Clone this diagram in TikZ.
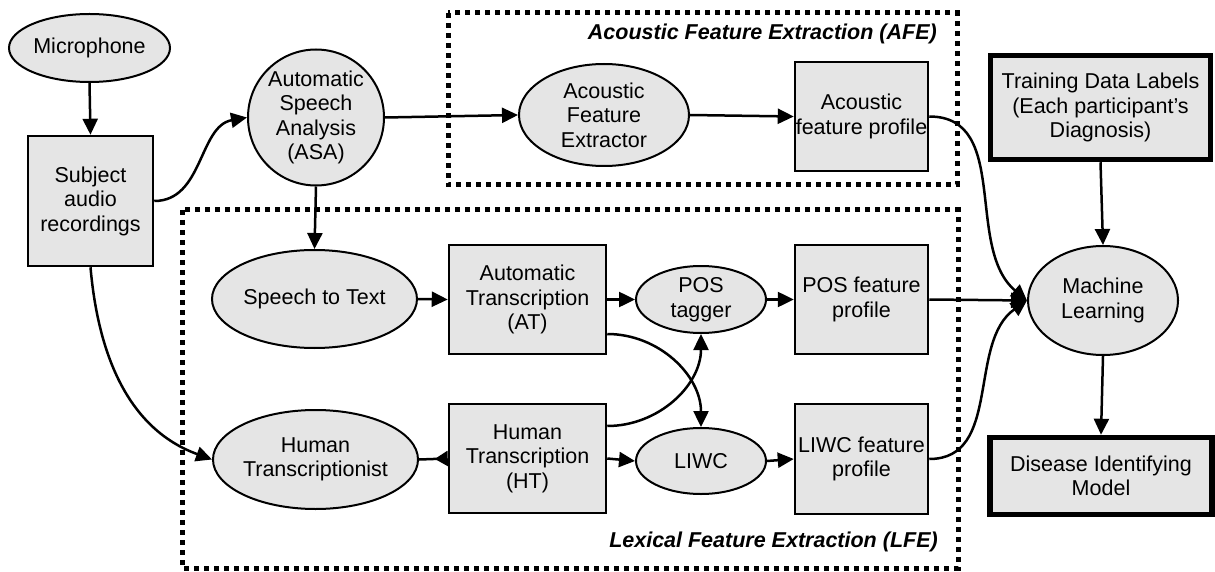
\documentclass[tikz,border=0pt]{standalone}
\usepackage{fontspec}
\setmainfont{Liberation Sans}
\usetikzlibrary{shapes.geometric,arrows.meta}
\begin{document}
\begin{tikzpicture}[x=1pt,y=-1pt,
  every node/.style={font=\fontsize{21.5}{24.5}\selectfont, align=center, inner sep=0pt},
  ell/.style={ellipse, draw, line width=2pt, fill=gray!20},
  box/.style={rectangle, draw, line width=2pt, fill=gray!20},
  thickbox/.style={rectangle, draw, line width=5.5pt, fill=gray!20},
  conn/.style={line width=2.5pt, -{Triangle[length=16pt,width=15pt]}},
  revconn/.style={line width=2.5pt, -{Triangle[length=13pt,width=15pt,reversed]}},
  region/.style={line width=5pt, dash pattern=on 5pt off 5pt},
  lbl/.style={font=\fontsize{21.5}{24.5}\selectfont\bfseries\itshape}
]
\useasboundingbox (0,0) rectangle (1215,572);

% regions
\draw[region] (448,13) rectangle (957,185);
\draw[region] (182,210) rectangle (958,568);
\node[lbl, anchor=east] (afel) at (937,34) {Acoustic Feature Extraction (AFE)};
\node[lbl, anchor=east] (lfel) at (938,542) {Lexical Feature Extraction (LFE)};

% nodes
\node[ell, minimum width=161pt, minimum height=68pt] (mic) at (89.5,48) {Microphone};
\node[box, minimum width=125.5pt, minimum height=130.5pt] (subj) at (90.5,201) {Subject\\audio\\recordings};
\node[circle, draw, line width=2pt, fill=gray!20, minimum size=136pt] (asa) at (316,117.5) {Automatic\\Speech\\Analysis\\(ASA)};
\node[ell, minimum width=170pt, minimum height=102pt] (afx) at (604,115) {Acoustic\\Feature\\Extractor};
\node[box, minimum width=133.5pt, minimum height=109.5pt] (afp) at (861.5,116.5) {Acoustic\\feature profile};
\node[thickbox, minimum width=220pt, minimum height=104pt] (train) at (1100.5,107.5) {Training Data Labels\\(Each participant’s\\Diagnosis)};
\node[ell, minimum width=150pt, minimum height=109pt] (ml) at (1103,300.5) {Machine\\Learning};
\node[thickbox, minimum width=222pt, minimum height=77pt] (dis) at (1101,476) {Disease Identifying\\Model};
\node[ell, minimum width=205pt, minimum height=98pt] (stt) at (314.5,299) {Speech to Text};
\node[box, minimum width=157.5pt, minimum height=109.5pt] (at) at (527.5,299.5) {Automatic\\Transcription\\(AT)};
\node[ell, minimum width=205pt, minimum height=99pt] (hti) at (315.5,459.5) {Human\\Transcriptionist};
\node[box, minimum width=157.5pt, minimum height=109.5pt] (ht) at (527.5,458.5) {Human\\Transcription\\(HT)};
\node[ell, minimum width=130pt, minimum height=67pt] (pos) at (701,299.5) {POS\\tagger};
\node[ell, minimum width=130pt, minimum height=66pt] (liwc) at (701,461) {LIWC};
\node[box, minimum width=133.5pt, minimum height=109.5pt] (posp) at (861.5,299.5) {POS feature\\profile};
\node[box, minimum width=133.5pt, minimum height=109.5pt] (liwcp) at (861.5,459) {LIWC feature\\profile};

% connectors
\draw[conn] (mic.south) -- (subj.north);
\draw[conn] (subj.east) to[out=0,in=190] (asa.west);
\draw[conn] (subj.south) to[out=-85,in=160] (hti.west);
\draw[conn] (asa.east) -- (afx.west);
\draw[conn] (asa.south) -- (stt.north);
\draw[conn] (afx.east) -- (afp.west);
\draw[conn] (stt.east) -- (at.west);
\draw[revconn] (hti.east) -- (ht.west);
\draw[conn] (at.east) -- (pos.west);
\draw[conn] (ht.east) -- (liwc.west);
\draw[conn] (pos.east) -- (posp.west);
\draw[conn] (liwc.east) -- (liwcp.west);
\draw[conn] ([yshift=-34.5pt]at.east) to[out=0,in=90] (liwc.north);
\draw[conn] ([yshift=32.5pt]ht.east) to[out=0,in=-90] (pos.south);
\draw[conn] (afp.east) to[out=0,in=140] (ml.west);
\draw[conn] (posp.east) -- (ml.west);
\draw[conn] (liwcp.east) to[out=0,in=215] (ml.west);
\draw[conn] (train.south) -- (ml.north);
\draw[conn] (ml.south) -- (dis.north);
\end{tikzpicture}
\end{document}
